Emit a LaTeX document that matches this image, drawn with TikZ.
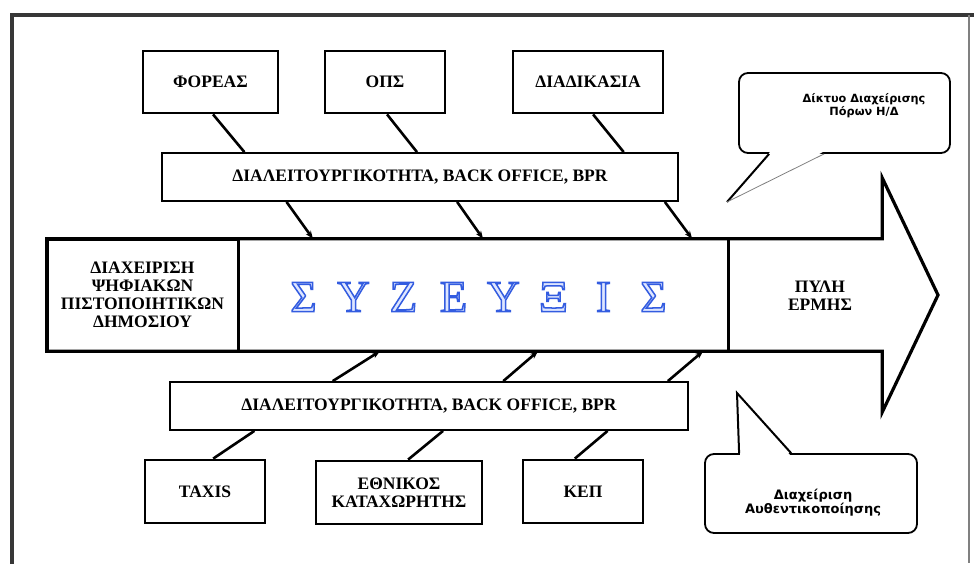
\documentclass[tikz,border=0pt]{standalone}
\usepackage{fontspec}
\setmainfont{Liberation Serif}
\newfontfamily\calloutfont{DejaVu Sans Bold}
\usetikzlibrary{calc,arrows.meta}
\definecolor{paleblue}{RGB}{222,230,255}
\definecolor{framegray}{RGB}{55,55,55}
% outlined (stroked and lightly filled) lettering
\newcommand\hollowtext[1]{\special{pdf:literal direct 0.2 0.36 0.88 RG 1.5 w 2 Tr}#1\special{pdf:literal direct 0 Tr}}
\newcommand\widecell[1]{\makebox[50pt]{#1}}
\begin{document}
\begin{tikzpicture}[x=1pt,y=-1pt,
  lbl/.style={font=\bfseries\fontsize{17.5}{18}\selectfont, align=center},
  topbox/.style={lbl, draw, line width=2.8pt, inner sep=0pt, fill=white},
  bar/.style={lbl, draw, line width=1.8pt, inner sep=0pt, fill=white},
  link/.style={line width=2.6pt},
  feed/.style={line width=2.6pt, -{Stealth[length=8pt,width=6pt]}},
  callout/.style={draw, line width=1.8pt, rounded corners=9pt, fill=white, inner sep=0pt},
  calltext/.style={font=\calloutfont\fontsize{#1}{13}\selectfont, align=center},
]
\useasboundingbox (0,0) rectangle (974,563);
\fill[white] (0,0) rectangle (974,563);

% page frame
\draw[line width=3.5pt, draw=framegray] (12,600) -- (12,15) -- (980,15);
\draw[line width=1.2pt, draw=gray] (969,15) -- (969,563);

% main arrow
\node[minimum width=835pt, minimum height=112pt, inner sep=0pt] (shaft) at (464.5,295) {};
\coordinate (tip) at (938,295);
\draw[line width=3.2pt, line join=miter]
  (shaft.north west) -- (shaft.north east) -- ($(shaft.north east)+(0,-61)$)
  -- (tip) -- ($(shaft.south east)+(0,61)$) -- (shaft.south east)
  -- (shaft.south west) -- cycle;

% left section of the arrow
\node[lbl, draw, line width=3pt, minimum width=191pt, minimum height=112pt, inner sep=0pt]
  (certs) at (142.5,295) {ΔΙΑΧΕΙΡΙΣΗ\\ΨΗΦΙΑΚΩΝ\\ΠΙΣΤΟΠΟΙΗΤΙΚΩΝ\\ΔΗΜΟΣΙΟΥ};

% right section of the arrow
\draw[line width=3pt] ($(shaft.north west)!0.8156!(shaft.north east)$) -- ($(shaft.south west)!0.8156!(shaft.south east)$);
\node[lbl] (portal) at (820,296) {ΠΥΛΗ\\ΕΡΜΗΣ};

% title
\node[text=paleblue, font=\fontsize{45}{45}\selectfont, inner sep=0pt] (title) at (478.5,297)
  {\hollowtext{\widecell{Σ}\widecell{Υ}\widecell{Ζ}\widecell{Ε}\widecell{Υ}\widecell{Ξ}\widecell{Ι}\widecell{Σ}}};

% upper row
\node[topbox, minimum width=135pt, minimum height=62pt] (foreas) at (210.5,82) {ΦΟΡΕΑΣ};
\node[topbox, minimum width=120pt, minimum height=62pt] (ops) at (385,82) {ΟΠΣ};
\node[topbox, minimum width=150pt, minimum height=62pt] (diad) at (588,82) {ΔΙΑΔΙΚΑΣΙΑ};
\node[bar, minimum width=516pt, minimum height=48pt] (upbar) at (420,177) {ΔΙΑΛΕΙΤΟΥΡΓΙΚΟΤΗΤΑ, BACK OFFICE, BPR};

% lower row
\node[bar, minimum width=518pt, minimum height=48pt] (dnbar) at (429,406) {ΔΙΑΛΕΙΤΟΥΡΓΙΚΟΤΗΤΑ, BACK OFFICE, BPR};
\node[topbox, minimum width=120pt, minimum height=63pt] (taxis) at (205,491.5) {TAXIS};
\node[topbox, minimum width=166pt, minimum height=63pt] (registry) at (399,492.5) {ΕΘΝΙΚΟΣ\\ΚΑΤΑΧΩΡΗΤΗΣ};
\node[topbox, minimum width=120pt, minimum height=63pt] (kep) at (583,491.5) {ΚΕΠ};

% links between the upper boxes and the bar
\draw[link] ($(foreas.south west)!0.5185!(foreas.south east)$) -- ($(upbar.north west)!0.1609!(upbar.north east)$);
\draw[link] ($(ops.south west)!0.5167!(ops.south east)$) -- ($(upbar.north west)!0.4942!(upbar.north east)$);
\draw[link] ($(diad.south west)!0.5333!(diad.south east)$) -- ($(upbar.north west)!0.8934!(upbar.north east)$);

% feeds from the upper bar into the arrow
\draw[feed] ($(upbar.south west)!0.2422!(upbar.south east)$) -- ($(shaft.north west)!0.3186!(shaft.north east)$);
\draw[feed] ($(upbar.south west)!0.5717!(upbar.south east)$) -- ($(shaft.north west)!0.5222!(shaft.north east)$);
\draw[feed] ($(upbar.south west)!0.9729!(upbar.south east)$) -- ($(shaft.north west)!0.7725!(shaft.north east)$);

% feeds from the lower bar into the arrow
\draw[feed] ($(dnbar.north west)!0.3147!(dnbar.north east)$) -- ($(shaft.south west)!0.3988!(shaft.south east)$);
\draw[feed] ($(dnbar.north west)!0.6429!(dnbar.north east)$) -- ($(shaft.south west)!0.5880!(shaft.south east)$);
\draw[feed] ($(dnbar.north west)!0.9595!(dnbar.north east)$) -- ($(shaft.south west)!0.7856!(shaft.south east)$);

% links between the lower bar and the lower boxes
\draw[link] ($(dnbar.south west)!0.1641!(dnbar.south east)$) -- ($(taxis.north west)!0.5667!(taxis.north east)$);
\draw[link] ($(dnbar.south west)!0.5270!(dnbar.south east)$) -- ($(registry.north west)!0.5540!(registry.north east)$);
\draw[link] ($(dnbar.south west)!0.8436!(dnbar.south east)$) -- ($(kep.north west)!0.4333!(kep.north east)$);

% callout: resource network
\node[callout, minimum width=211pt, minimum height=80pt] (net) at (844.5,113) {};
\coordinate (nettip) at (727,202);
\fill[white] ($(net.south west)+(32,-2)$) -- (nettip) -- ($(net.south west)+(85,-2)$) -- cycle;
\draw[line width=2pt] ($(net.south west)+(31,0)$) -- (nettip);
\draw[line width=0.8pt, draw=gray] (nettip) -- ($(net.south west)+(86,0)$);
\node[calltext=11.3] (nettext) at (864,106) {Δίκτυο Διαχείρισης\\Πόρων Η/Δ};

% callout: authentication
\node[callout, minimum width=212pt, minimum height=79pt] (auth) at (811,493.5) {};
\coordinate (authtip) at (737,393);
\fill[white] ($(auth.north west)+(36,2)$) -- (authtip) -- ($(auth.north west)+(86,2)$) -- cycle;
\draw[line width=2pt, line join=miter] ($(auth.north west)+(35,0)$) -- (authtip) -- ($(auth.north west)+(87,0)$);
\node[calltext=13] (authtext) at (813,503) {Διαχείριση\\Αυθεντικοποίησης};
\end{tikzpicture}
\end{document}
